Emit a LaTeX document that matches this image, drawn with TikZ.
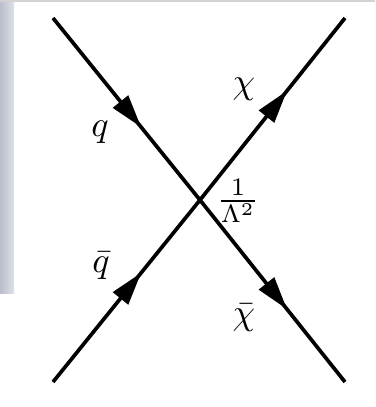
\documentclass[tikz,border=0pt]{standalone}
\usetikzlibrary{arrows.meta,decorations.markings}
\definecolor{bgA}{RGB}{185,190,202}
\definecolor{bgB}{RGB}{222,224,232}
\definecolor{bgTop}{RGB}{210,210,212}
\tikzset{
  fermion/.style={line width=3.7pt,
    postaction={decorate,decoration={markings,
      mark=at position #1 with {\arrow{Triangle[length=33pt,width=19pt]}}}}},
  fermion/.default=0.6,
  lbl/.style={inner sep=0pt,scale=3.6},
}
\begin{document}
\begin{tikzpicture}[x=1pt,y=-1pt]
\useasboundingbox (0,0) rectangle (375,407);
\fill[white] (0,0) rectangle (375,407);
\shade[left color=bgA,right color=bgB] (0,0) rectangle (14,293);
\fill[bgTop] (0,0) rectangle (375,1.5);
\coordinate (v) at (200,200);
\coordinate (q) at (53,18);
\coordinate (qb) at (53,382);
\coordinate (chi) at (345,18);
\coordinate (chib) at (345,382);
\draw[fermion] (q) -- (v);
\draw[fermion] (qb) -- (v);
\draw[fermion] (v) -- (chi);
\draw[fermion] (v) -- (chib);
\node[lbl] (lq) at (100,132) {$q$};
\node[lbl] (lqb) at (101,266) {$\bar q$};
\node[lbl] (lchi) at (244,89) {$\chi$};
\node[lbl] (lchib) at (244,318) {$\bar\chi$};
\node[lbl] (lc) at (238,201) {$\frac{1}{\Lambda^2}$};
\end{tikzpicture}
\end{document}
